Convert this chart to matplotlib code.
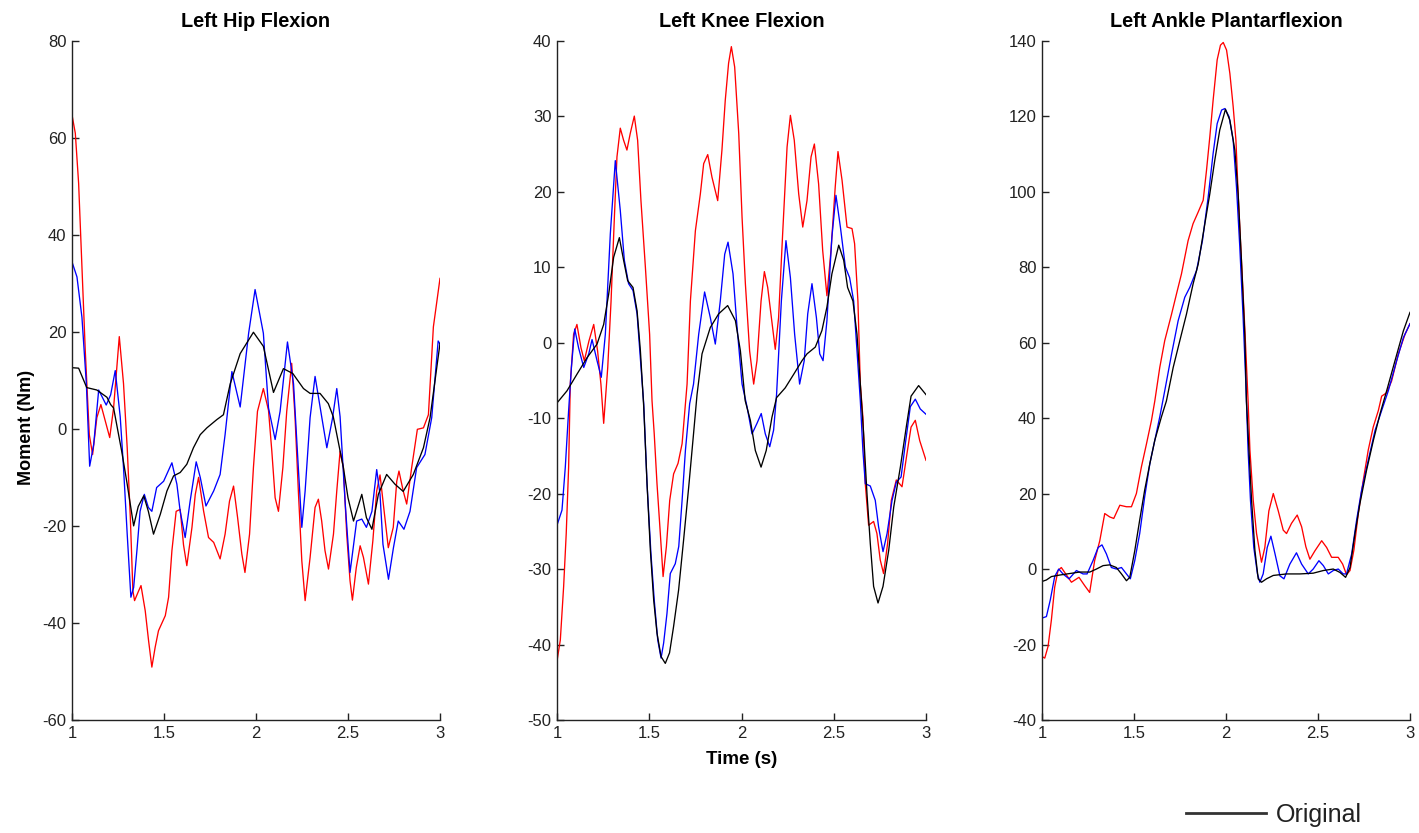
import matplotlib
matplotlib.use("Agg")
import matplotlib.pyplot as plt
from matplotlib.ticker import FixedLocator

plt.rcParams['font.family'] = ['Liberation Sans', 'DejaVu Sans']

# ---------------- data: (time s, moment Nm) ----------------
titles = ["Left Hip Flexion", "Left Knee Flexion", "Left Ankle Plantarflexion"]
x_ticks = [1, 1.5, 2, 2.5, 3]
x_tick_labels = ["1", "1.5", "2", "2.5", "3"]
hip_yticks = [-60, -40, -20, 0, 20, 40, 60, 80]
knee_yticks = [-50, -40, -30, -20, -10, 0, 10, 20, 30, 40]
ankle_yticks = [-40, -20, 0, 20, 40, 60, 80, 100, 120, 140]
legend_labels = ["Original"]

hip_black = [(1.0,12.6),(1.036,12.5),(1.08,8.5),(1.135,8.0),(1.19,6.5),(1.21,5),(1.226,4.3),(1.27,-4.6),(1.30,-11.4),(1.335,-20),(1.36,-16),(1.39,-13.8),(1.415,-17),(1.443,-21.7),(1.48,-17.6),(1.516,-12.8),(1.552,-9.7),(1.588,-9),(1.624,-7.3),(1.66,-3.9),(1.697,-1.2),(1.733,0.2),(1.787,1.9),(1.823,2.9),(1.86,9.3),(1.914,15.5),(1.986,19.9),(2.04,17),(2.095,7.5),(2.149,12.4),(2.2,11.4),(2.258,8.3),(2.294,7.3),(2.348,7.3),(2.393,5.2),(2.42,2.5),(2.475,-8),(2.50,-14.2),(2.53,-19),(2.575,-13.5),(2.60,-18.3),(2.63,-20.7),(2.665,-13.5),(2.71,-9.4),(2.755,-11.4),(2.80,-12.9),(2.855,-9.4),(2.91,-3.9),(2.946,2.3),(3.0,17.6)]
hip_blue = [(1.0,34.4),(1.027,31.3),(1.054,23),(1.078,9.3),(1.096,-7.7),(1.118,-3.2),(1.145,8),(1.165,6.5),(1.186,4.9),(1.21,7),(1.235,12),(1.262,2.5),(1.28,-8),(1.30,-21.7),(1.32,-34.7),(1.335,-32.7),(1.353,-25),(1.37,-17),(1.393,-13.5),(1.415,-16.2),(1.434,-17),(1.46,-12.1),(1.498,-10.8),(1.543,-7),(1.57,-11.4),(1.588,-17),(1.615,-22.4),(1.642,-14.9),(1.675,-6.8),(1.697,-10),(1.728,-15.9),(1.77,-12.8),(1.805,-9.4),(1.832,-1.2),(1.869,11.8),(1.914,4.5),(1.96,19.7),(1.995,28.7),(2.04,19.7),(2.068,4.3),(2.104,-2.2),(2.131,3.6),(2.171,17.9),(2.204,9.3),(2.23,-8),(2.249,-20.3),(2.267,-12.8),(2.294,2.3),(2.321,10.8),(2.357,2.5),(2.385,-3.9),(2.415,2),(2.439,8.3),(2.457,2.5),(2.484,-14.9),(2.511,-29.6),(2.547,-19),(2.575,-18.6),(2.60,-20.3),(2.63,-17),(2.656,-8.4),(2.674,-13.5),(2.69,-23.8),(2.72,-31),(2.747,-24.5),(2.773,-19),(2.804,-20.7),(2.837,-17),(2.873,-8),(2.918,-5.3),(2.955,2.3),(2.99,18.1),(3.0,17.5)]
hip_red = [(1.0,64.7),(1.018,60.9),(1.036,50.6),(1.054,33.4),(1.072,16.2),(1.094,-1.2),(1.112,-5.3),(1.135,2.3),(1.157,5),(1.181,1.6),(1.205,-1.8),(1.226,4.3),(1.257,19),(1.28,9.3),(1.30,-3.9),(1.317,-18.3),(1.331,-33.4),(1.34,-35.4),(1.362,-33.4),(1.375,-32.3),(1.398,-37.5),(1.416,-43.6),(1.434,-49.1),(1.452,-45),(1.47,-41.6),(1.507,-38.5),(1.525,-34.7),(1.543,-25.1),(1.566,-17),(1.588,-16.6),(1.606,-23.9),(1.624,-28.2),(1.652,-20.3),(1.67,-13.5),(1.688,-10),(1.715,-16.9),(1.742,-22.4),(1.77,-23.4),(1.805,-26.8),(1.832,-21.7),(1.856,-14.9),(1.878,-11.8),(1.9,-18.3),(1.923,-25.8),(1.94,-29.6),(1.965,-21.7),(1.986,-8),(2.008,3.6),(2.04,8.3),(2.068,3.8),(2.086,-4.6),(2.104,-14.2),(2.122,-17),(2.146,-8),(2.167,3.6),(2.194,13.5),(2.212,2.5),(2.231,-13.5),(2.249,-27.2),(2.267,-35.4),(2.294,-26.5),(2.321,-16.2),(2.339,-14.5),(2.357,-19),(2.375,-25.1),(2.394,-28.9),(2.421,-21.7),(2.439,-12.8),(2.457,-4.6),(2.475,-8),(2.493,-21.7),(2.511,-31.3),(2.524,-35.3),(2.545,-28.6),(2.566,-24.1),(2.584,-26.5),(2.611,-32),(2.635,-23.1),(2.656,-12.8),(2.674,-9.5),(2.692,-15.5),(2.719,-24.5),(2.746,-20.3),(2.765,-10.8),(2.777,-8.7),(2.8,-12.8),(2.819,-15.5),(2.846,-8),(2.877,-0.1),(2.91,0.2),(2.937,2.9),(2.964,21),(3.0,31)]

knee_black = [(1.0,-8),(1.054,-6.4),(1.108,-4.2),(1.163,-2),(1.217,-0.2),(1.253,2.4),(1.28,6.4),(1.307,11.3),(1.338,13.9),(1.361,10.9),(1.383,8.2),(1.412,7.3),(1.434,4.2),(1.452,-1.1),(1.47,-8.5),(1.488,-18.7),(1.506,-27.5),(1.524,-34.1),(1.542,-38.5),(1.564,-41.6),(1.587,-42.5),(1.61,-41.1),(1.632,-37.6),(1.659,-32.8),(1.686,-26.2),(1.714,-19.1),(1.74,-12.1),(1.759,-6.9),(1.786,-1.5),(1.831,2),(1.876,3.8),(1.925,4.9),(1.967,2.9),(1.994,-1.1),(2.02,-7.7),(2.048,-10.3),(2.075,-14.3),(2.106,-16.5),(2.134,-14.3),(2.165,-9.9),(2.19,-7.3),(2.237,-6),(2.283,-4.2),(2.328,-2.4),(2.355,-1.5),(2.4,-0.6),(2.436,1.6),(2.463,4.7),(2.49,9.1),(2.527,12.9),(2.554,10.9),(2.575,7.3),(2.604,5.5),(2.626,1.1),(2.644,-5.5),(2.662,-12.1),(2.68,-20),(2.698,-26.6),(2.716,-32.3),(2.74,-34.5),(2.767,-32.3),(2.798,-27.5),(2.825,-21.8),(2.861,-16.5),(2.893,-11.2),(2.919,-7.1),(2.96,-5.7),(3.0,-6.9)]
knee_blue = [(1.0,-24.2),(1.027,-22.2),(1.045,-16.5),(1.063,-9),(1.078,-3.3),(1.096,1.8),(1.117,-0.7),(1.145,-3.3),(1.172,-1.5),(1.19,0.4),(1.217,-2.4),(1.24,-4.6),(1.262,1.1),(1.289,14.4),(1.316,24.1),(1.343,17.5),(1.365,10.9),(1.388,7.8),(1.412,6.9),(1.434,3.8),(1.47,-8.1),(1.488,-18.7),(1.509,-27.9),(1.527,-34.1),(1.546,-39.4),(1.564,-41.8),(1.578,-39.8),(1.596,-35.9),(1.614,-30.6),(1.641,-29.3),(1.66,-27),(1.678,-20.9),(1.696,-14.3),(1.719,-8.1),(1.74,-5.5),(1.768,1.1),(1.80,6.7),(1.831,3.3),(1.858,-0.2),(1.885,5.5),(1.909,11.7),(1.927,13.3),(1.954,9.1),(1.976,2),(2.003,-5.5),(2.03,-8.5),(2.057,-12.1),(2.084,-10.7),(2.107,-9.4),(2.129,-12.1),(2.153,-13.8),(2.174,-11.6),(2.19,-6.9),(2.216,5.5),(2.241,13.5),(2.265,8.6),(2.288,1.1),(2.315,-5.5),(2.34,-2.4),(2.359,3.8),(2.382,7.8),(2.406,3.3),(2.424,-1.5),(2.442,-2.4),(2.463,2.9),(2.49,14),(2.512,19.5),(2.536,15.3),(2.563,10),(2.586,8.6),(2.608,5.5),(2.626,-1.1),(2.644,-7.7),(2.658,-14.3),(2.671,-18.7),(2.698,-19),(2.725,-20.9),(2.743,-24.4),(2.767,-27.7),(2.789,-25.3),(2.816,-20.9),(2.839,-18.5),(2.865,-17.8),(2.888,-13.4),(2.915,-8.5),(2.942,-7.5),(2.969,-8.8),(3.0,-9.5)]
knee_red = [(1.0,-42.2),(1.018,-39.4),(1.036,-32.3),(1.05,-25.3),(1.063,-16.5),(1.072,-5.5),(1.09,1.1),(1.108,2.4),(1.13,-0.7),(1.148,-2.4),(1.173,0.2),(1.199,2.4),(1.22,-1.1),(1.238,-5.5),(1.253,-10.7),(1.275,-3.3),(1.293,5.5),(1.311,16.6),(1.325,24.6),(1.343,28.4),(1.361,26.8),(1.379,25.5),(1.397,27.7),(1.419,30),(1.437,26.8),(1.455,18.8),(1.479,10),(1.502,1.1),(1.515,-7.7),(1.527,-12.1),(1.542,-18.7),(1.56,-25.3),(1.575,-31),(1.593,-27),(1.611,-20.9),(1.632,-17.4),(1.656,-16),(1.678,-13.4),(1.705,-5.5),(1.723,5.5),(1.75,14.8),(1.777,19.7),(1.795,23.7),(1.817,24.9),(1.84,21.9),(1.871,18.8),(1.894,25.5),(1.912,32.1),(1.93,37),(1.945,39.2),(1.963,36.5),(1.985,27.7),(2.003,16.6),(2.021,7.8),(2.044,-1.1),(2.066,-5.5),(2.084,-2.4),(2.106,5.5),(2.124,9.4),(2.142,7.3),(2.162,3.3),(2.183,-0.9),(2.201,3.3),(2.223,14.4),(2.247,25.9),(2.265,30.1),(2.286,26.8),(2.31,19.7),(2.332,15.3),(2.355,18.8),(2.377,24.6),(2.395,26.3),(2.418,21),(2.44,12.2),(2.463,6.2),(2.485,12.2),(2.508,20.6),(2.523,25.3),(2.545,21.5),(2.572,15.3),(2.599,15.1),(2.613,13.1),(2.631,5.5),(2.644,-5.5),(2.658,-9.9),(2.671,-18.7),(2.689,-24.2),(2.716,-23.7),(2.734,-25.3),(2.752,-28.8),(2.77,-30.6),(2.792,-26.6),(2.812,-20.9),(2.839,-18.2),(2.87,-19.1),(2.897,-14.7),(2.919,-11.2),(2.942,-10.3),(2.966,-13),(3.0,-15.6)]

ankle_black = [(1.0,-3.3),(1.024,-2.9),(1.051,-2),(1.096,-1.6),(1.15,-1.2),(1.205,-0.8),(1.26,-0.8),(1.296,0),(1.332,0.9),(1.368,1.1),(1.404,0.4),(1.432,-1.3),(1.459,-3.1),(1.477,-2.2),(1.504,4.8),(1.531,13),(1.558,20.9),(1.586,27.9),(1.613,34.1),(1.649,40.3),(1.676,44.5),(1.713,53.4),(1.749,60.5),(1.785,67.5),(1.821,75.5),(1.849,80.8),(1.876,88.8),(1.912,99.4),(1.939,108.3),(1.966,116.3),(1.997,121.8),(2.021,118.9),(2.048,111),(2.066,99.4),(2.084,81.7),(2.102,62.2),(2.111,44.5),(2.12,35.9),(2.139,18.2),(2.157,5),(2.175,-2.6),(2.193,-3.5),(2.22,-2.6),(2.257,-1.7),(2.329,-1.3),(2.402,-1.3),(2.474,-1.1),(2.529,-0.4),(2.583,0),(2.619,-0.9),(2.65,-2.2),(2.674,0.4),(2.701,9.4),(2.728,17.4),(2.764,26.2),(2.801,34.1),(2.837,41.1),(2.873,47.2),(2.918,55.1),(2.964,63.1),(3.0,68)]
ankle_blue = [(1.0,-13),(1.024,-12.6),(1.045,-8.2),(1.069,-2),(1.091,0),(1.114,-1.3),(1.147,-2.6),(1.187,-0.4),(1.223,-1.3),(1.245,-1.3),(1.277,2.2),(1.305,5.7),(1.326,6.4),(1.35,4),(1.377,0.4),(1.404,0),(1.432,0.4),(1.459,-1.3),(1.48,-2.6),(1.504,2.2),(1.531,9.4),(1.558,19.1),(1.586,27.9),(1.613,34.1),(1.64,40.3),(1.667,47.2),(1.704,56.9),(1.74,65.8),(1.776,72),(1.803,74.6),(1.84,79.1),(1.872,87),(1.903,98.5),(1.93,110.1),(1.952,118),(1.976,121.6),(1.994,122),(2.017,119.8),(2.039,113.6),(2.057,101.2),(2.075,85.3),(2.093,66.7),(2.108,49),(2.12,31.5),(2.133,18.2),(2.151,5.7),(2.171,-1.3),(2.184,-3.5),(2.202,-1.3),(2.224,5.7),(2.244,8.7),(2.266,4.1),(2.293,-1.8),(2.315,-2.6),(2.347,1.3),(2.383,4.3),(2.411,1.3),(2.447,-1.3),(2.474,0),(2.505,2.2),(2.529,0.9),(2.556,-1.3),(2.583,-0.4),(2.61,0),(2.637,-1.3),(2.655,-1.3),(2.683,4),(2.71,13),(2.737,20.9),(2.773,28.8),(2.81,36.7),(2.846,42),(2.882,47.2),(2.927,55.1),(2.964,61.3),(3.0,65)]
ankle_red = [(1.0,-23.2),(1.015,-23.6),(1.033,-20.5),(1.051,-13.5),(1.069,-4.8),(1.087,-0.4),(1.105,0.4),(1.129,-1.3),(1.16,-3.5),(1.201,-2.2),(1.232,-4.4),(1.259,-6.2),(1.286,2.2),(1.314,7.5),(1.341,14.7),(1.368,13.8),(1.39,13.4),(1.423,16.9),(1.459,16.5),(1.486,16.5),(1.513,20),(1.54,27),(1.568,33.2),(1.595,39.4),(1.613,44.5),(1.64,53.4),(1.667,60.5),(1.704,67.5),(1.731,72.9),(1.758,78.2),(1.794,87),(1.821,91.5),(1.849,94.6),(1.876,97.7),(1.894,105.6),(1.912,114.5),(1.93,124.2),(1.952,134.9),(1.97,138.8),(1.985,139.5),(2.003,137.5),(2.021,131.3),(2.039,122.5),(2.054,113.6),(2.066,99.4),(2.084,81.7),(2.102,64),(2.12,44.5),(2.13,31.5),(2.148,18.2),(2.166,9.4),(2.193,1.8),(2.211,5.7),(2.233,15.4),(2.257,20),(2.284,15.4),(2.311,10.3),(2.329,9.4),(2.356,12.1),(2.387,14.3),(2.411,11.2),(2.434,5.9),(2.456,2.6),(2.483,4.8),(2.52,7.5),(2.547,5.7),(2.574,3.1),(2.61,3.1),(2.634,1.3),(2.655,-1.5),(2.674,-0.4),(2.695,5),(2.719,14.7),(2.746,23.5),(2.773,31.5),(2.8,37.6),(2.828,42),(2.846,45.8),(2.873,46.7),(2.9,49.8),(2.936,56.9),(2.973,62.2),(3.0,65)]

# ---------------- figure ----------------
W, H = 1419, 833
fig = plt.figure(figsize=(W / 100, H / 100), dpi=100)

def px_axes(left, right, top, bottom):
    return fig.add_axes([left / W, 1 - bottom / H, (right - left) / W, (bottom - top) / H])

panels = [
    (px_axes(72, 440, 40.6, 720), hip_black, hip_blue, hip_red, (-60, 80), hip_yticks),
    (px_axes(557, 926, 40.6, 720), knee_black, knee_blue, knee_red, (-50, 40), knee_yticks),
    (px_axes(1042, 1410, 40.6, 720), ankle_black, ankle_blue, ankle_red, (-40, 140), ankle_yticks),
]

black_handle = None
for i, (ax, blk, blu, red, ylim, yt) in enumerate(panels):
    for series, col in ((red, '#ff0000'), (blu, '#0000ff'), (blk, '#000000')):
        t = [p[0] for p in series]
        v = [p[1] for p in series]
        line, = ax.plot(t, v, color=col, lw=0.95, solid_joinstyle='round')
        if col == '#000000':
            black_handle = line
    ax.set_xlim(1, 3)
    ax.set_ylim(*ylim)
    ax.xaxis.set_major_locator(FixedLocator(x_ticks))
    ax.set_xticklabels(x_tick_labels)
    ax.yaxis.set_major_locator(FixedLocator(yt))
    ax.set_yticklabels([str(v) for v in yt])
    ax.spines['top'].set_visible(False)
    ax.spines['right'].set_visible(False)
    for s in ('left', 'bottom'):
        ax.spines[s].set_linewidth(1.0)
        ax.spines[s].set_color('#222222')
    ax.tick_params(direction='in', length=5, width=1.0, labelsize=12,
                   colors='#222222', labelcolor='#222222', pad=4)
    ax.set_title(titles[i], fontsize=14.3, fontweight='bold', pad=10)
    ax.set_facecolor('white')

panels[0][0].set_ylabel("Moment (Nm)", fontsize=13, fontweight='bold')
panels[0][0].yaxis.set_label_coords(-0.100, 0.43)
panels[1][0].set_xlabel("Time (s)", fontsize=13.5, fontweight='bold')
panels[1][0].xaxis.set_label_coords(0.5, -0.046)

leg = fig.legend([black_handle], legend_labels, loc='center left',
                 bbox_to_anchor=(1186 / W, 1 - 815 / H), frameon=False,
                 fontsize=18, handlelength=3.2, handletextpad=0.4,
                 borderpad=0, borderaxespad=0, labelcolor='#222222')
for ln in leg.get_lines():
    ln.set_linewidth(2.0)
    ln.set_color('#333333')

fig.savefig("out.png", dpi=100, facecolor='white')
